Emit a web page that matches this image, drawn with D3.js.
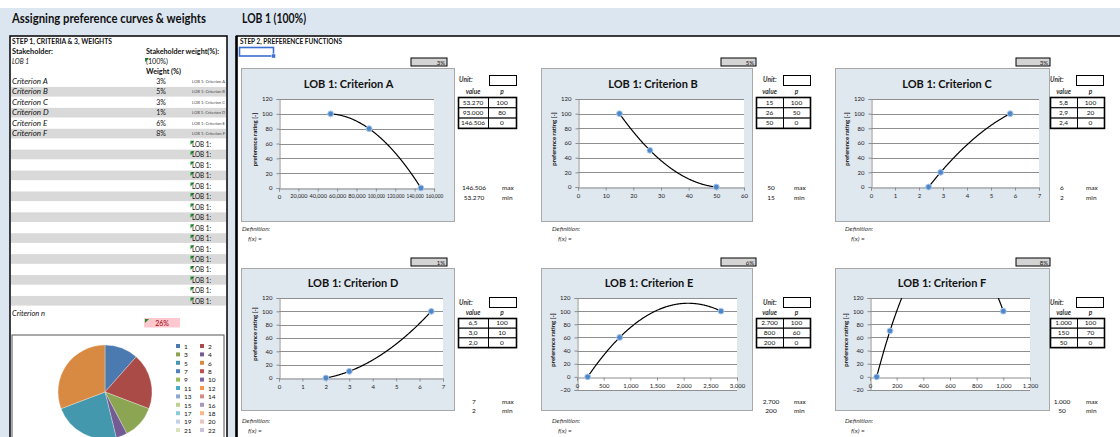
<!DOCTYPE html>
<html>
<head>
<meta charset="utf-8">
<script src="https://cdn.jsdelivr.net/npm/d3@7"></script>
<style>
  html, body { margin: 0; padding: 0; background: #fff; }
  svg { display: block; font-family: Lato, "Open Sans", sans-serif; }
</style>
</head>
<body>
<svg id="sheet" width="1120" height="437"></svg>
<script>
// ---- sheet content ----
const pageTitle = "Assigning preference curves & weights";
const lobTitle = "LOB 1 (100%)";
const criteria = ["Criterion A", "Criterion B", "Criterion C", "Criterion D", "Criterion E", "Criterion F"];
const weights = [3, 5, 3, 1, 6, 8];
const emptyRows = 16;

// preference points per criterion: attribute value -> preference rating p
const prefValues = [
  [53270, 93000, 146506],
  [15, 26, 50],
  [5.8, 2.9, 2.4],
  [6.5, 3.0, 2.0],
  [2700, 800, 200],
  [1000, 150, 50]
];
const prefScores = [
  [100, 80, 0],
  [100, 50, 0],
  [100, 20, 0],
  [100, 10, 0],
  [100, 60, 0],
  [100, 70, 0]
];
const valueLabels = [
  ["53.270", "93.000", "146.506"],
  ["15", "26", "50"],
  ["5,8", "2,9", "2,4"],
  ["6,5", "3,0", "2,0"],
  ["2.700", "800", "200"],
  ["1.000", "150", "50"]
];
const maxLabels = ["146.506", "50", "6", "7", "2.700", "1.000"];
const minLabels = ["53.270", "15", "2", "2", "200", "50"];

// axis extents and tick steps per chart
const xMax = [160000, 60, 7, 7, 3000, 1200];
const xStep = [20000, 10, 1, 1, 500, 200];
const yMin = [0, 0, 0, 0, -20, -20];
const yMax = [120, 120, 120, 120, 120, 120];

// pie legend entries
const legendEntries = d3.range(1, 23);
const pieColors = ["#4a7ab0", "#ab4b48", "#8ba553", "#745b93", "#4498ae", "#d88a43",
  "#4f81bd", "#c0504d", "#9bbb59", "#8064a2", "#4bacc6", "#f79646",
  "#8aa8d2", "#d48b89", "#bcd38f", "#a996c0", "#8acbdc", "#f9b887",
  "#c3d1e6", "#e8c4c3", "#d7e4bd", "#ccc1da"];

// ---- drawing ----
const svg = d3.select("#sheet");
const fmt = d3.format(",");

// background of the sheet
svg.append("rect").attr("x", 0).attr("y", 8).attr("width", 1120).attr("height", 429).attr("fill", "#dce6f1");

svg.append("text").attr("x", 12).attr("y", 23).attr("font-size", 12.5).attr("font-weight", 700)
  .attr("textLength", 194).attr("lengthAdjust", "spacingAndGlyphs").attr("fill", "#111").text(pageTitle);
svg.append("text").attr("x", 242).attr("y", 23).attr("font-size", 12.5).attr("font-weight", 700)
  .attr("textLength", 64).attr("lengthAdjust", "spacingAndGlyphs").attr("fill", "#111").text(lobTitle);

// ---- left panel: criteria & weights ----
const left = svg.append("g");
left.append("rect").attr("x", 10).attr("y", 36).attr("width", 217).attr("height", 420)
  .attr("fill", "#fff").attr("stroke", "#000").attr("stroke-width", 1.5);

function txt(g, x, y, s, opts = {}) {
  const t = g.append("text").attr("x", x).attr("y", y).attr("font-size", opts.size || 7)
    .attr("fill", opts.fill || "#111").text(s);
  if (opts.bold) t.attr("font-weight", 700);
  if (opts.italic) t.attr("font-style", "italic");
  if (opts.anchor) t.attr("text-anchor", opts.anchor);
  if (opts.len) t.attr("textLength", opts.len).attr("lengthAdjust", "spacingAndGlyphs");
  return t;
}
function flag(g, x, y) {
  g.append("path").attr("d", `M${x},${y}h4l-4,4z`).attr("fill", "#1e8c2a");
}

txt(left, 12, 44, "STEP 1, CRITERIA & 3, WEIGHTS", { size: 6.5, bold: true, len: 100 });
txt(left, 12, 54, "Stakeholder:", { size: 7, bold: true, len: 41 });
txt(left, 146, 54, "Stakeholder weight(%):", { size: 7, bold: true, len: 73 });
txt(left, 12, 64, "LOB 1", { size: 7, italic: true, len: 17 });
flag(left, 145, 58);
txt(left, 146, 64, "(100%)", { size: 7, len: 22 });
txt(left, 146, 74, "Weight (%)", { size: 7, bold: true, len: 35 });

const rowTop = 76.5, rowH = 10.45;
const totalRows = criteria.length + emptyRows;
d3.range(totalRows).forEach(i => {
  const y = rowTop + i * rowH;
  if (i % 2 === 1) left.append("rect").attr("x", 11).attr("y", y).attr("width", 215).attr("height", rowH - 0.8).attr("fill", "#d9d9d9");
  if (i < criteria.length) {
    txt(left, 12, y + 7.5, criteria[i], { size: 8, italic: true });
    txt(left, 161, y + 7.5, weights[i] + "%", { size: 7, anchor: "middle" });
    txt(left, 192, y + 6.5, "LOB 1: " + criteria[i], { size: 3.3, fill: "#444", len: 33 });
  } else {
    flag(left, 190.5, y + 1.5);
    txt(left, 192, y + 7.8, "LOB 1:", { size: 7.3, len: 19 });
  }
});

txt(left, 12, 316, "Criterion n", { size: 7.5, italic: true });
const weightSum = d3.sum(weights);
left.append("rect").attr("x", 144).attr("y", 318).attr("width", 36).attr("height", 9.5).attr("fill", "#ffc7ce");
flag(left, 145, 319);
txt(left, 162, 325.5, weightSum + "%", { size: 7, fill: "#9c0006", anchor: "middle" });

// pie of the weights
left.append("rect").attr("x", 12).attr("y", 335).attr("width", 212).attr("height", 120)
  .attr("fill", "#fff").attr("stroke", "#555").attr("stroke-width", 1);
const pie = d3.pie().sort(null).value(d => d)(weights);
const arc = d3.arc().innerRadius(0).outerRadius(47);
left.append("g").attr("transform", "translate(105,392)")
  .selectAll("path").data(pie).join("path")
  .attr("d", arc).attr("fill", (d, i) => pieColors[i]).attr("stroke", "#fff").attr("stroke-width", 0.3);

const lg = left.append("g");
legendEntries.forEach((n, i) => {
  const col = i % 2, row = Math.floor(i / 2);
  const x = col === 0 ? 176 : 200, y = 346.5 + row * 8.4;
  lg.append("rect").attr("x", x).attr("y", y - 2.5).attr("width", 4).attr("height", 4).attr("fill", pieColors[i]);
  txt(lg, x + 8, y + 2.3, String(n), { size: 6.5 });
});

// ---- right panel: preference functions ----
const right = svg.append("g");
right.append("rect").attr("x", 236.5).attr("y", 36).attr("width", 900).attr("height", 420)
  .attr("fill", "#fff").attr("stroke", "#000").attr("stroke-width", 1.5);
right.append("line").attr("x1", 236.5).attr("x2", 236.5).attr("y1", 36).attr("y2", 437).attr("stroke", "#000").attr("stroke-width", 2.5);
txt(right, 240, 44, "STEP 2, PREFERENCE FUNCTIONS", { size: 6.5, bold: true, len: 102 });
right.append("rect").attr("x", 239.5).attr("y", 47.5).attr("width", 34).attr("height", 8.5)
  .attr("fill", "none").attr("stroke", "#3a6fd0").attr("stroke-width", 1.6);
right.append("rect").attr("x", 271.5).attr("y", 54).attr("width", 4).attr("height", 4).attr("fill", "#3a6fd0").attr("stroke", "#fff").attr("stroke-width", 0.5);

// per-column and per-row geometry
const colGeo = [
  { box: [241, 454], pct: [411, 447], unitX: 459, unitBox: [489, 516], table: [458, 488, 516], maxX: [474, 502], defX: 242 },
  { box: [541, 752], pct: [721, 756], unitX: 763, unitBox: [783, 810], table: [756, 783, 810], maxX: [771, 794], defX: 552 },
  { box: [835, 1049], pct: [1016, 1050], unitX: 1050, unitBox: [1076, 1103], table: [1050, 1077, 1104], maxX: [1062, 1086], defX: 845 }
];
const rowGeo = [
  { box: [68, 221], pctTop: 58, titleY: 88, plotTop: 99, unitY: 82, unitTop: 75, headY: 94, tableTop: 97, tRowH: 10.3, maxY: 190, minY: 200, defY: 231 },
  { box: [268, 410], pctTop: 258, titleY: 287, plotTop: 298, unitY: 305, unitTop: 297, headY: 315, tableTop: 318, tRowH: 9.7, maxY: 404, minY: 413, defY: 423 }
];
const plotX = [[279, 434], [578, 744], [871, 1039], [279, 443], [577, 737], [870, 1030]];
const plotBottom = [188, 187, 187, 378, 390, 390];

criteria.forEach((name, k) => {
  const c = colGeo[k % 3], r = rowGeo[Math.floor(k / 3)];
  const g = right.append("g");

  // weight cell above the chart
  g.append("rect").attr("x", c.pct[0]).attr("y", r.pctTop).attr("width", c.pct[1] - c.pct[0]).attr("height", 8)
    .attr("fill", "#d4d4d4").attr("stroke", "#000").attr("stroke-width", 1);
  txt(g, c.pct[1] - 2, r.pctTop + 6.5, weights[k] + "%", { size: 6, anchor: "end" });

  // chart area
  g.append("rect").attr("x", c.box[0] + 0.5).attr("y", r.box[0] + 0.5).attr("width", c.box[1] - c.box[0]).attr("height", r.box[1] - r.box[0])
    .attr("fill", "#dfe7ef").attr("stroke", "#a8a8a8").attr("stroke-width", 1);
  const x0 = plotX[k][0], x1 = plotX[k][1];
  txt(g, (x0 + x1) / 2 - 8, r.titleY, "LOB 1: " + name, { size: 11, bold: true, anchor: "middle" });

  const x = d3.scaleLinear().domain([0, xMax[k]]).range([x0, x1]);
  const y = d3.scaleLinear().domain([yMin[k], yMax[k]]).range([plotBottom[k], r.plotTop]);
  g.append("rect").attr("x", x0).attr("y", r.plotTop).attr("width", x1 - x0).attr("height", plotBottom[k] - r.plotTop).attr("fill", "#fff");

  const yTicks = d3.range(yMin[k], yMax[k] + 1, 20);
  const xTicks = d3.range(0, xMax[k] + xStep[k] / 2, xStep[k]);

  // horizontal gridlines
  g.append("g").selectAll("line").data(yTicks.filter(v => v !== 0)).join("line")
    .attr("x1", x0).attr("x2", x1).attr("y1", d => Math.round(y(d)) + 0.5).attr("y2", d => Math.round(y(d)) + 0.5)
    .attr("stroke", "#8e8e8e").attr("stroke-width", 1);

  // y axis
  const ya = g.append("g").attr("transform", `translate(${x0 + 0.5},0)`)
    .call(d3.axisLeft(y).tickValues(yTicks).tickSize(3).tickPadding(4).tickFormat(d3.format("d")));
  ya.select(".domain").attr("stroke", "#8e8e8e");
  ya.selectAll(".tick line").attr("stroke", "#8e8e8e");
  ya.selectAll("text").attr("font-size", 6).attr("font-family", "Lato, sans-serif").attr("fill", "#222");

  // x axis at p = 0
  const y0 = Math.round(y(0)) + 0.5;
  const xa = g.append("g").attr("transform", `translate(0,${y0})`)
    .call(d3.axisBottom(x).tickValues(xTicks).tickSize(3).tickPadding(3).tickFormat(d => fmt(d)));
  xa.select(".domain").attr("stroke", "#8e8e8e");
  xa.selectAll(".tick line").attr("stroke", "#8e8e8e");
  const wide = x.range()[1] - x.range()[0];
  const labelW = wide / (xTicks.length - 1) - 2;
  xa.selectAll("text").attr("font-size", 6).attr("font-family", "Lato, sans-serif").attr("fill", "#222")
    .each(function () {
      // shrink long tick labels so they fit their slot
      const w = this.getComputedTextLength();
      if (w > labelW) d3.select(this).attr("font-size", (6 * labelW / w).toFixed(2));
    });

  // axis title
  g.append("text").attr("transform", `translate(${x0 - 22},${(r.plotTop + plotBottom[k]) / 2 - 4}) rotate(-90)`)
    .attr("text-anchor", "middle").attr("font-size", 6).attr("font-weight", 700).attr("fill", "#111")
    .text("preference rating [-]");

  // second-order trendline through the three preference points
  const xs = prefValues[k], ps = prefScores[k];
  const lagrange = v => xs.reduce((s, xi, i) => {
    let term = ps[i];
    xs.forEach((xj, j) => { if (j !== i) term *= (v - xj) / (xi - xj); });
    return s + term;
  }, 0);
  const lo = d3.min(xs), hi = d3.max(xs);
  const curvePts = d3.range(0, 201).map(t => lo + (hi - lo) * t / 200).map(v => [v, lagrange(v)]);
  const clipId = "clip" + k;
  g.append("clipPath").attr("id", clipId).append("rect")
    .attr("x", x0).attr("y", r.plotTop).attr("width", x1 - x0).attr("height", plotBottom[k] - r.plotTop);
  g.append("path").attr("clip-path", `url(#${clipId})`)
    .attr("d", d3.line().x(d => x(d[0])).y(d => y(d[1]))(curvePts))
    .attr("fill", "none").attr("stroke", "#000").attr("stroke-width", 1.2);

  g.append("g").selectAll("circle").data(xs.map((v, i) => [v, ps[i]])).join("circle")
    .attr("cx", d => x(d[0])).attr("cy", d => y(d[1])).attr("r", 2.9)
    .attr("fill", "#4f87c6").attr("stroke", "#a8c8ec").attr("stroke-width", 1);

  // unit and value table
  txt(g, c.unitX, r.unitY, "Unit:", { size: 6.5, italic: true, bold: true, fill: "#333" });
  g.append("rect").attr("x", c.unitBox[0] + 0.5).attr("y", r.unitTop + 0.5).attr("width", c.unitBox[1] - c.unitBox[0]).attr("height", 10)
    .attr("fill", "#fff").attr("stroke", "#000").attr("stroke-width", 1);
  const tc = c.table;
  txt(g, (tc[0] + tc[1]) / 2, r.headY, "value", { size: 6.5, italic: true, bold: true, anchor: "middle", fill: "#333" });
  txt(g, (tc[1] + tc[2]) / 2, r.headY, "p", { size: 6.5, italic: true, bold: true, anchor: "middle", fill: "#333" });
  valueLabels[k].forEach((lab, i) => {
    const ty = r.tableTop + i * r.tRowH;
    g.append("rect").attr("x", tc[0] + 0.5).attr("y", ty + 0.5).attr("width", tc[1] - tc[0]).attr("height", r.tRowH)
      .attr("fill", "#fff").attr("stroke", "#000").attr("stroke-width", 1);
    g.append("rect").attr("x", tc[1] + 0.5).attr("y", ty + 0.5).attr("width", tc[2] - tc[1]).attr("height", r.tRowH)
      .attr("fill", "#fff").attr("stroke", "#000").attr("stroke-width", 1);
    txt(g, (tc[0] + tc[1]) / 2, ty + r.tRowH - 2.5, lab, { size: 6.5, anchor: "middle" });
    txt(g, (tc[1] + tc[2]) / 2, ty + r.tRowH - 2.5, String(prefScores[k][i]), { size: 6.5, anchor: "middle" });
  });
  g.append("rect").attr("x", tc[0] + 0.5).attr("y", r.tableTop + 0.5).attr("width", tc[2] - tc[0]).attr("height", 3 * r.tRowH)
    .attr("fill", "none").attr("stroke", "#000").attr("stroke-width", 1.6);

  txt(g, c.maxX[0], r.maxY, maxLabels[k], { size: 6.5, anchor: "middle" });
  txt(g, c.maxX[1], r.maxY, "max", { size: 6.5, anchor: "start" });
  txt(g, c.maxX[0], r.minY, minLabels[k], { size: 6.5, anchor: "middle" });
  txt(g, c.maxX[1], r.minY, "min", { size: 6.5, anchor: "start" });

  txt(g, c.defX, r.defY, "Definition:", { size: 6.5, italic: true, fill: "#333" });
  txt(g, c.defX + 6, r.defY + 10, "f(x) =", { size: 6.5, italic: true, fill: "#333" });
});
</script>
</body>
</html>
